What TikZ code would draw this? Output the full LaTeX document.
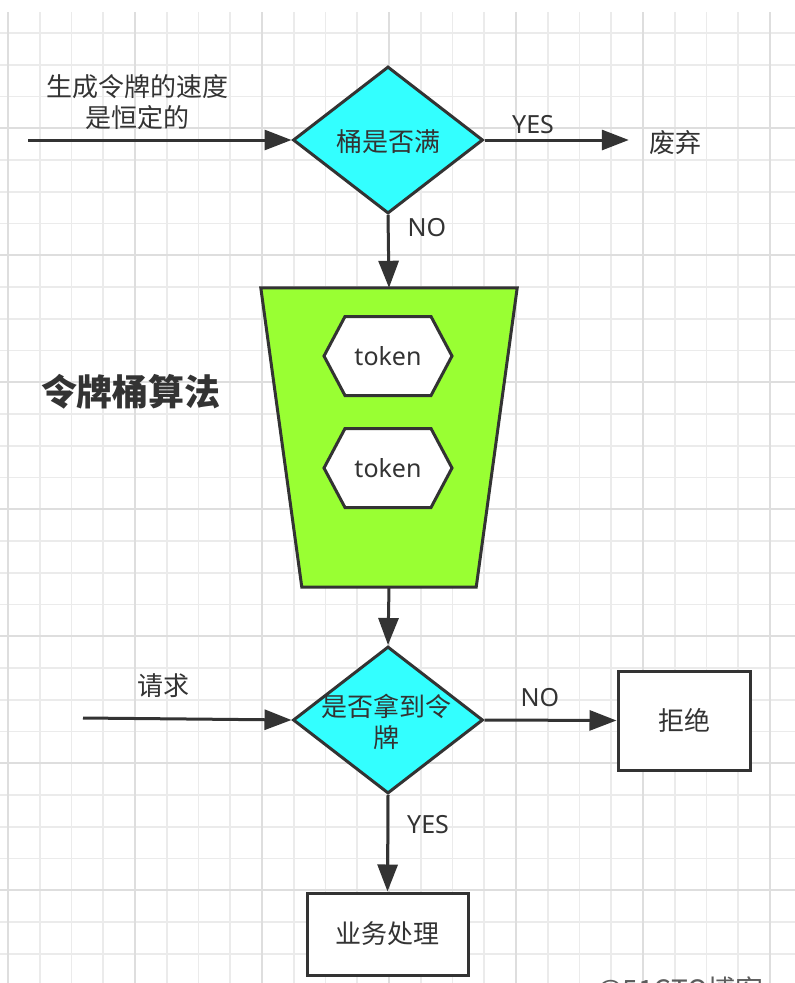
\documentclass[tikz,border=0pt]{standalone}
\usepackage{fontspec}
\setmainfont{Noto Sans}
\newfontfamily\cjk{Noto Sans CJK SC}
\usetikzlibrary{shapes.geometric,arrows.meta,calc}
\definecolor{ink}{HTML}{333333}
\definecolor{cyanfill}{HTML}{33FFFF}
\definecolor{greenfill}{HTML}{99FF33}
\definecolor{gridminor}{HTML}{EBEBEB}
\definecolor{gridmajor}{HTML}{DEDEDE}
\tikzset{
  txt/.style={text=ink, inner sep=0pt, font=\cjk\fontsize{26}{31}\selectfont, align=center},
  lat/.style={text=ink, inner sep=0pt, font=\fontsize{25}{30}\selectfont},
  dia/.style={shape=diamond, draw=ink, line width=3pt, fill=cyanfill, minimum width=190pt, minimum height=147pt, inner sep=0pt},
  box/.style={draw=ink, line width=3pt, fill=white, inner sep=0pt, text=ink, font=\cjk\fontsize{26}{31}\selectfont},
  hexa/.style={draw=ink, line width=3pt, fill=white, line join=miter},
  conn/.style={draw=ink, line width=3pt, -{Triangle[length=27pt,width=20pt]}},
}
\begin{document}
\begin{tikzpicture}[x=1pt,y=-1pt]
\useasboundingbox (0,0) rectangle (795,983);
\fill[white] (0,0) rectangle (795,983);
% grid
\foreach \i in {0,...,24} {
  \pgfmathsetmacro{\xx}{8+31.75*\i}
  \draw[gridminor, line width=1.6pt] (\xx,12) -- (\xx,983);
}
\foreach \j in {0,...,29} {
  \pgfmathsetmacro{\yy}{33+31.75*\j}
  \draw[gridminor, line width=1.6pt] (0,\yy) -- (795,\yy);
}
\foreach \i in {0,4,...,24} {
  \pgfmathsetmacro{\xx}{8+31.75*\i}
  \draw[gridmajor, line width=1.6pt] (\xx,12) -- (\xx,983);
}
\foreach \j in {3,7,...,29} {
  \pgfmathsetmacro{\yy}{33+31.75*\j}
  \draw[gridmajor, line width=1.6pt] (0,\yy) -- (795,\yy);
}

% top decision
\node[dia] (d1) at (388,140) {};
\node[txt] (d1t) at (388,142) {桶是否满};
\coordinate (in1) at (28,140);
\node[txt] (rate) at (137,102) {生成令牌的速度\\是恒定的};
\node[txt] (qi) at (675,143) {废弃};
\node[lat] (yes1) at (533,125) {YES};
\node[lat] (no1) at (427,228) {NO};

% bucket
\node[minimum width=256pt, minimum height=299pt, inner sep=0pt] (bucket) at (389,437.5) {};
\draw[ink, line width=3pt, fill=greenfill, line join=miter]
  (bucket.north west) -- (bucket.north east) -- ([xshift=-41pt]bucket.south east) -- ([xshift=41pt]bucket.south west) -- cycle;

\node[lat] (tk1) at (388,356) {token};
\node[lat] (tk2) at (388,468) {token};
\foreach \t in {tk1,tk2} {
  \draw[hexa] ($(\t)+(-64,0)$) -- ($(\t)+(-43,-39.5)$) -- ($(\t)+(43,-39.5)$) -- ($(\t)+(64,0)$) -- ($(\t)+(43,39.5)$) -- ($(\t)+(-43,39.5)$) -- cycle;
}
\node[lat] at (tk1) {token};
\node[lat] at (tk2) {token};

\node[text=ink, inner sep=0pt, font=\cjk\bfseries\fontsize{36}{40}\selectfont] (title) at (131,392) {令牌桶算法};

% second decision
\node[dia] (d2) at (388,720) {};
\node[txt] (d2t) at (386,722) {是否拿到令\\牌};
\coordinate (in2) at (83,718);
\node[txt] (req) at (163,686) {请求};
\node[lat] (no2) at (540,698) {NO};
\node[lat] (yes2) at (428,825) {YES};

\node[box, minimum width=132pt, minimum height=99pt] (jj) at (684,720.5) {拒绝};
\node[box, minimum width=161pt, minimum height=82pt] (yw) at (387.5,934) {业务处理};

% watermark (cut off at the bottom, as in the source)
\node[anchor=base, text=ink!80, inner sep=0pt, font=\cjk\fontsize{28}{30}\selectfont] (wm) at (680,1000) {@51CTO博客};

% connectors
\draw[conn] (in1) -- (d1.west);
\draw[conn] (d1.east) -- ([xshift=-20pt]qi.west |- d1.east);
\draw[conn] (d1.south) -- (bucket.north);
\draw[conn] (bucket.south) -- (d2.north);
\draw[conn] (in2) -- (d2.west);
\draw[conn] (d2.east) -- (jj.west);
\draw[conn] (d2.south) -- (yw.north);
\end{tikzpicture}
\end{document}
